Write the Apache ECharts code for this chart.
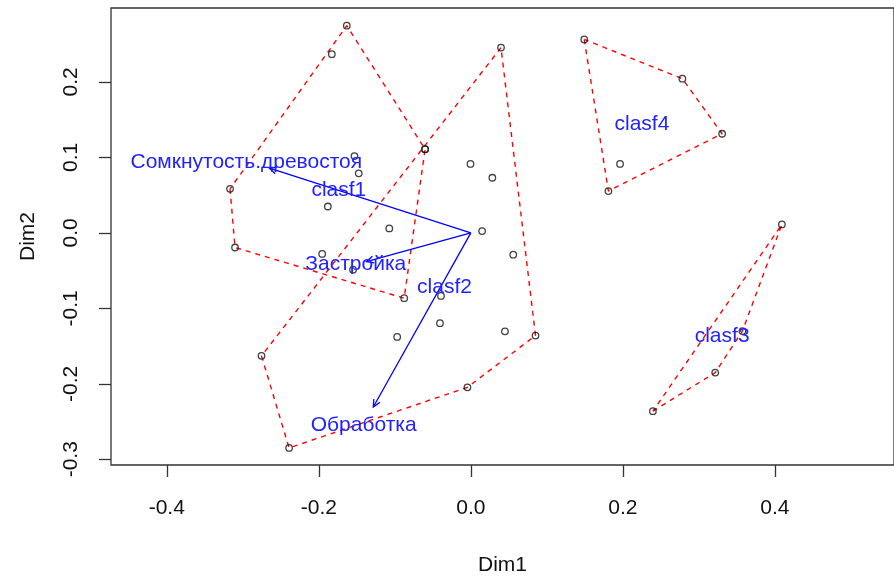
<!DOCTYPE html>
<html>
<head>
<meta charset="utf-8">
<script src="https://cdn.jsdelivr.net/npm/echarts@6/dist/echarts.min.js"></script>
<style>
html,body{margin:0;padding:0;background:#fff;}
#chart{width:894px;height:581px;}
</style>
</head>
<body>
<div id="chart"></div>
<script>
// ---- data (Dim1, Dim2) ----
var clasf1 = [[-0.1632,0.2745],[-0.1829,0.2367],[-0.1531,0.1017],[-0.1475,0.0788],[-0.3168,0.0583],[-0.0602,0.1108],[-0.1881,0.0349],[-0.1073,0.0059],[-0.3102,-0.0194],[-0.1956,-0.0280],[-0.1550,-0.0488],[-0.0877,-0.0866]];
var clasf2 = [[0.0397,0.2454],[-0.0602,0.1108],[-0.0005,0.0913],[0.0283,0.0730],[0.0148,0.0023],[0.0558,-0.0289],[-0.0393,-0.0836],[-0.0406,-0.1197],[-0.0969,-0.1379],[0.0449,-0.1305],[0.0851,-0.1361],[-0.0045,-0.2047],[-0.2391,-0.2850],[-0.2754,-0.1630]];
var clasf3 = [[0.4092,0.0111],[0.3573,-0.1301],[0.3215,-0.1852],[0.2395,-0.2363]];
var clasf4 = [[0.1492,0.2563],[0.2783,0.2042],[0.3306,0.1313],[0.1810,0.0553],[0.1963,0.0913]];
var groupNames = ['clasf1','clasf2','clasf3','clasf4'];
var groupLabelPos = [[-0.1737,0.0566],[-0.0347,-0.0715],[0.3306,-0.1374],[0.2251,0.1434]];
var arrowNames = ['Сомкнутость.древостоя','Застройка','Обработка'];
var arrowEnds = [[-0.2650,0.0857],[-0.1374,-0.0380],[-0.1283,-0.2307]];
var arrowLabelPos = [[-0.2954,0.0935],[-0.1514,-0.0419],[-0.1410,-0.2555]];
var xTicks = [-0.4,-0.2,0.0,0.2,0.4];
var yTicks = [-0.3,-0.2,-0.1,0.0,0.1,0.2];

// ---- convex hull (monotone chain) ----
function hull(pts){
  var p = pts.slice().sort(function(a,b){return a[0]-b[0]||a[1]-b[1];});
  function cross(o,a,b){return (a[0]-o[0])*(b[1]-o[1])-(a[1]-o[1])*(b[0]-o[0]);}
  var lower=[],upper=[],i;
  for(i=0;i<p.length;i++){while(lower.length>=2&&cross(lower[lower.length-2],lower[lower.length-1],p[i])<=0)lower.pop();lower.push(p[i]);}
  for(i=p.length-1;i>=0;i--){while(upper.length>=2&&cross(upper[upper.length-2],upper[upper.length-1],p[i])<=0)upper.pop();upper.push(p[i]);}
  upper.pop();lower.pop();
  var h=lower.concat(upper);
  h.push(h[0]);
  return h;
}

var groups = [clasf1,clasf2,clasf3,clasf4];
var FONT = '"Liberation Sans", Arial, sans-serif';
var series = [];
groups.forEach(function(g){
  series.push({
    type:'line', data:hull(g), symbol:'none', silent:true, z:2,
    lineStyle:{color:'#ff0000', width:1.4, type:[5,5]}
  });
});
var allPts = [].concat(clasf1,clasf2,clasf3,clasf4);
series.push({
  type:'scatter', data:allPts, symbol:'circle', symbolSize:6.5, z:3,
  itemStyle:{color:'rgba(255,255,255,0)', borderColor:'#111', borderWidth:1.3}
});
series.push({
  type:'custom', z:4, data:arrowEnds,
  renderItem:function(params, api){
    var s = api.coord([0,0]);
    var e = api.coord([api.value(0), api.value(1)]);
    var a = Math.atan2(e[1]-s[1], e[0]-s[0]);
    var L = 8, t = Math.PI/7;
    var h1 = [e[0]-L*Math.cos(a-t), e[1]-L*Math.sin(a-t)];
    var h2 = [e[0]-L*Math.cos(a+t), e[1]-L*Math.sin(a+t)];
    var st = {stroke:'#0000ff', lineWidth:1.3, fill:null};
    return {type:'group', children:[
      {type:'line', shape:{x1:s[0],y1:s[1],x2:e[0],y2:e[1]}, style:st},
      {type:'polyline', shape:{points:[h1,e,h2]}, style:st}
    ]};
  }
});
function textSeries(pos, names){
  return {
    type:'custom', z:5, data:pos,
    renderItem:function(params, api){
      var c = api.coord([api.value(0), api.value(1)]);
      return {type:'text', x:c[0], y:c[1], style:{
        text:names[params.dataIndex], fill:'#2222ff', font:'21px '+FONT,
        align:'center', verticalAlign:'middle'}};
    }
  };
}
series.push(textSeries(arrowLabelPos, arrowNames));
series.push(textSeries(groupLabelPos, groupNames));

function fmt(v){ var s = (Math.abs(v)<1e-9?0:v).toFixed(1); return s; }

var chart = echarts.init(document.getElementById('chart'), null, {renderer:'canvas'});
chart.setOption({
  animation:false,
  backgroundColor:'#ffffff',
  grid:{left:111, top:8, right:-4, bottom:108, show:true, borderColor:'#333', borderWidth:1.3, backgroundColor:'rgba(0,0,0,0)'},
  xAxis:{
    type:'value', min:-0.4734, max:0.5567, position:'bottom',
    splitLine:{show:false}, axisLine:{show:false, onZero:false},
    axisTick:{show:true, customValues:xTicks, length:12, inside:false, lineStyle:{color:'#333', width:1.3}},
    axisLabel:{customValues:xTicks, formatter:fmt, fontSize:21, fontFamily:FONT, color:'#111', margin:33},
    name:'Dim1', nameLocation:'middle', nameGap:90,
    nameTextStyle:{fontSize:21, fontFamily:FONT, color:'#111'}
  },
  yAxis:{
    type:'value', min:-0.3076, max:0.2979, position:'left',
    splitLine:{show:false}, axisLine:{show:false, onZero:false},
    axisTick:{show:true, customValues:yTicks, length:12, inside:false, lineStyle:{color:'#333', width:1.3}},
    axisLabel:{customValues:yTicks, formatter:fmt, fontSize:21, fontFamily:FONT, color:'#111', margin:29, rotate:90},
    name:'Dim2', nameLocation:'middle', nameGap:72, nameRotate:90,
    nameTextStyle:{fontSize:21, fontFamily:FONT, color:'#111'}
  },
  series:series
});
</script>
</body>
</html>
